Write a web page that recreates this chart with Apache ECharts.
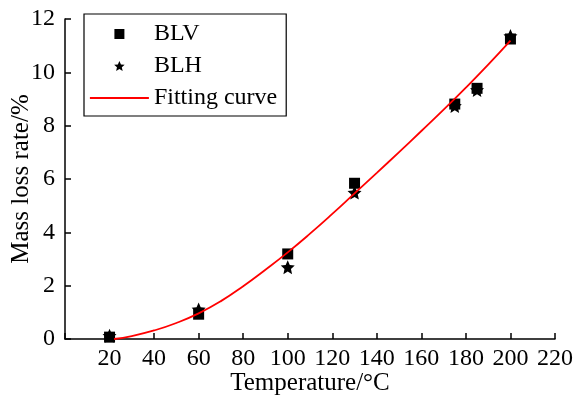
<!DOCTYPE html>
<html>
<head>
<meta charset="utf-8">
<script src="https://cdn.jsdelivr.net/npm/echarts@6/dist/echarts.min.js"></script>
<style>html,body{margin:0;padding:0;background:#fff;}#c{width:574px;height:401px;}</style>
</head>
<body>
<div id="c"></div>
<script>
const blvX = [20, 60, 100, 130, 175, 185, 200];
const blvY = [0.07, 0.93, 3.19, 5.84, 8.81, 9.40, 11.25];
const blhX = [20, 60, 100, 130, 175, 185, 200];
const blhY = [0.12, 1.11, 2.69, 5.49, 8.74, 9.34, 11.36];
const fitX = [22, 30, 40, 50, 60, 70, 80, 90, 100, 110, 120, 130, 140, 150, 160, 170, 180, 190, 200];
const fitY = [0, 0.11, 0.32, 0.6, 0.96, 1.42, 1.98, 2.6, 3.25, 3.95, 4.69, 5.46, 6.23, 7.01, 7.8, 8.6, 9.43, 10.29, 11.19];
const xTicks = [0, 220, 20];
const yTicks = [0, 12, 2];

const FONT = "'Liberation Serif', 'Times New Roman', serif";
const STAR = 'path://M100,0 L128,62 L195.1,69.1 L144,114 L158.8,180.9 L100,146 L41.2,180.9 L56,114 L4.9,69.1 L72,62 Z';
const SQUARE = 'path://M0,0 L10,0 L10,10 L0,10 Z';

const pairs = (xs, ys) => xs.map((x, i) => [x, ys[i]]);

const chart = echarts.init(document.getElementById('c'), null, {renderer: 'canvas'});
chart.setOption({
  animation: false,
  backgroundColor: '#fff',
  textStyle: {fontFamily: FONT, color: '#000'},
  grid: {left: 65, right: 19, top: 19, bottom: 62, containLabel: false, outerBoundsMode: 'none'},
  legend: {
    left: 84, top: 14, orient: 'vertical',
    padding: [8, 9, 6, 5],
    itemGap: 8,
    itemWidth: 59, itemHeight: 10,
    borderColor: '#000', borderWidth: 1.2,
    textStyle: {fontFamily: FONT, fontSize: 24, lineHeight: 24, color: '#000'},
    data: [
      {name: 'BLV', icon: SQUARE},
      {name: 'BLH', icon: STAR},
      {name: 'Fitting curve', itemStyle: {color: 'rgba(0,0,0,0)', borderWidth: 0, opacity: 0},
        lineStyle: {color: '#ff0000', width: 1.8, opacity: 1}}
    ]
  },
  xAxis: {
    type: 'value', min: xTicks[0], max: xTicks[1], interval: xTicks[2],
    name: 'Temperature/°C', nameLocation: 'middle', nameGap: 32, nameMoveOverlap: false,
    nameTextStyle: {fontFamily: FONT, fontSize: 25, color: '#000'},
    axisLine: {lineStyle: {color: '#000', width: 1.5}},
    axisTick: {inside: true, length: 6, lineStyle: {color: '#000', width: 1.5}},
    axisLabel: {fontFamily: FONT, fontSize: 24, color: '#000', margin: 8,
      formatter: v => v === 0 ? '' : String(v)},
    splitLine: {show: false}
  },
  yAxis: {
    type: 'value', min: yTicks[0], max: yTicks[1], interval: yTicks[2],
    name: 'Mass loss rate/%', nameLocation: 'middle', nameGap: 31, nameMoveOverlap: false,
    nameTextStyle: {fontFamily: FONT, fontSize: 25, color: '#000'},
    axisLine: {show: true, lineStyle: {color: '#000', width: 1.5}},
    axisTick: {show: true, inside: true, length: 6, lineStyle: {color: '#000', width: 1.5}},
    axisLabel: {fontFamily: FONT, fontSize: 24, color: '#000', margin: 10},
    splitLine: {show: false}
  },
  series: [
    {name: 'BLV', type: 'scatter', data: pairs(blvX, blvY), symbol: SQUARE, symbolSize: 11,
      itemStyle: {color: '#000', opacity: 1}, z: 2},
    {name: 'BLH', type: 'scatter', data: pairs(blhX, blhY), symbol: STAR, symbolSize: 14,
      itemStyle: {color: '#000', opacity: 1}, z: 3},
    {name: 'Fitting curve', type: 'line', data: pairs(fitX, fitY), smooth: true, showSymbol: false,
      symbol: 'none', lineStyle: {color: '#ff0000', width: 1.8}, itemStyle: {color: '#ff0000'}, z: 4}
  ]
});
</script>
</body>
</html>
